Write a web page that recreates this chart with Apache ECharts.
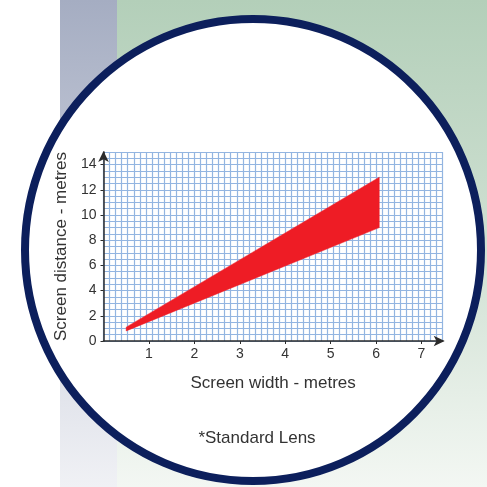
<!DOCTYPE html>
<html><head><meta charset="utf-8">
<script src="https://cdn.jsdelivr.net/npm/echarts@6/dist/echarts.min.js"></script>
<style>html,body{margin:0;padding:0;background:#fff}#c{width:487px;height:487px}</style>
</head><body><div id="c"></div>
<script>
// ---- data ----
const xTicks = [1, 2, 3, 4, 5, 6, 7];
const yTicks = [0, 2, 4, 6, 8, 10, 12, 14];
const screenWidth = [0.5, 6.07];
const distanceMax = [1.1, 13.0];
const distanceMin = [0.8, 9.0];
const xName = 'Screen width - metres';
const yName = 'Screen distance - metres';
const note = '*Standard Lens';

const X_MAX = 56 * 2 / 15;
const Y_MAX = 15;
const font = 'Liberation Sans, Arial, sans-serif';
const gridLine = { show: true, lineStyle: { color: '#93b5e1', width: 1.2 } };

const chart = echarts.init(document.getElementById('c'), null, { renderer: 'canvas' });
chart.setOption({
  animation: false,
  backgroundColor: '#ffffff',
  graphic: {
    elements: [
      { type: 'rect', z: -100, silent: true, shape: { x: 60, y: 0, width: 57, height: 487 },
        style: { fill: new echarts.graphic.LinearGradient(0, 0, 0, 1, [
          { offset: 0, color: '#a5adc2' }, { offset: 1, color: '#f0f1f5' }]) } },
      { type: 'rect', z: -100, silent: true, shape: { x: 117, y: 0, width: 370, height: 487 },
        style: { fill: new echarts.graphic.LinearGradient(0, 0, 0, 1, [
          { offset: 0, color: '#b3cfb9' }, { offset: 0.5, color: '#cfe0d2' }, { offset: 1, color: '#f3f7f3' }]) } },
      { type: 'ellipse', z: -90, silent: true, shape: { cx: 253, cy: 250, rx: 228, ry: 231 },
        style: { fill: '#ffffff', stroke: '#0c1f5c', lineWidth: 8 } },
      { type: 'text', z: 10, silent: true, x: 257, y: 438,
        style: { text: note, font: '17px ' + font, fill: '#333333', textAlign: 'center', textVerticalAlign: 'middle' } }
    ]
  },
  grid: { left: 103.5, right: 487 - 103.5 - X_MAX * 45.43, top: 152, bottom: 146 },
  xAxis: [
    { type: 'value', min: 0, max: X_MAX, interval: 1,
      name: xName, nameLocation: 'middle', nameGap: 34,
      nameTextStyle: { fontFamily: font, fontSize: 17, color: '#333' },
      axisLine: { show: true, symbol: ['none', 'arrow'], symbolSize: [8, 11], symbolOffset: [0, 2],
        lineStyle: { color: '#2b2b2b', width: 1.5 } },
      axisTick: { show: true, length: 3, customValues: xTicks, lineStyle: { color: '#2b2b2b' } },
      axisLabel: { customValues: xTicks, margin: 6, fontFamily: font, fontSize: 14, color: '#333' },
      splitLine: { show: false } },
    { type: 'value', min: 0, max: X_MAX, interval: 2 / 15,
      axisLine: { show: false }, axisTick: { show: false }, axisLabel: { show: false },
      splitLine: gridLine }
  ],
  yAxis: [
    { type: 'value', min: 0, max: Y_MAX, interval: 2,
      name: yName, nameLocation: 'middle', nameGap: 33,
      nameTextStyle: { fontFamily: font, fontSize: 17, color: '#333' },
      axisLine: { show: true, symbol: ['none', 'arrow'], symbolSize: [8, 11], symbolOffset: [0, 1],
        lineStyle: { color: '#2b2b2b', width: 1.5 } },
      axisTick: { show: true, length: 3, customValues: yTicks, lineStyle: { color: '#2b2b2b' } },
      axisLabel: { customValues: yTicks, margin: 7, fontFamily: font, fontSize: 14, color: '#333' },
      splitLine: { show: false } },
    { type: 'value', min: 0, max: Y_MAX, interval: 0.5,
      axisLine: { show: false }, axisTick: { show: false }, axisLabel: { show: false },
      splitLine: gridLine }
  ],
  series: [{
    type: 'custom',
    xAxisIndex: 0, yAxisIndex: 0,
    data: [[screenWidth[0], distanceMin[0]]],
    renderItem: function (params, api) {
      const pts = [];
      for (let i = 0; i < screenWidth.length; i++) pts.push(api.coord([screenWidth[i], distanceMax[i]]));
      for (let i = screenWidth.length - 1; i >= 0; i--) pts.push(api.coord([screenWidth[i], distanceMin[i]]));
      return { type: 'polygon', shape: { points: pts }, style: { fill: '#ee1c25', stroke: '#ee1c25', lineWidth: 0.5 } };
    }
  }]
});
</script>
</body></html>
